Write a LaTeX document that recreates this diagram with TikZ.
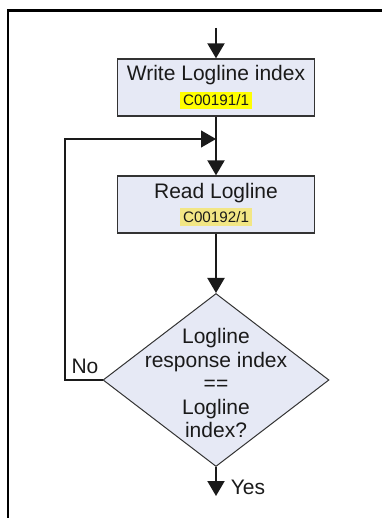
\documentclass[tikz,border=0pt]{standalone}
\usepackage{fontspec}
\setmainfont{Liberation Sans}
\usepackage{xcolor}
\usepackage{tikz}
\usetikzlibrary{arrows.meta,positioning,shapes.geometric}
\definecolor{ink}{HTML}{1A1A1A}
\definecolor{edge}{HTML}{333333}
\definecolor{boxfill}{HTML}{E6E9F5}
\definecolor{hlbright}{HTML}{FFFF00}
\definecolor{hlpale}{HTML}{F2E685}
\newcommand{\codetag}[2]{{\setlength{\fboxsep}{1.6pt}\colorbox{#1}{\fontsize{7.6}{8}\selectfont #2}}}

\begin{document}
\begin{tikzpicture}[
  x=0.5pt,y=-0.5pt,
  every node/.style={font=\fontsize{10.5}{12.5}\selectfont,text=ink},
  stepbox/.style={rectangle,draw=edge,line width=0.65pt,fill=boxfill,minimum width=98.5pt,minimum height=28.5pt,inner sep=0pt,align=center},
  decision/.style={diamond,draw=edge,line width=0.5pt,fill=boxfill,minimum width=113pt,minimum height=86.5pt,inner sep=0pt,aspect=1.306},
  label/.style={align=center,inner sep=0pt},
  flow/.style={line width=1pt,color=ink,-{Triangle[length=7.5pt,width=8.5pt]}},
  loop/.style={line width=0.6pt,color=ink,-{Triangle[length=7.5pt,width=8.5pt]}},
  frame/.style={line width=1.15pt,color=black}
]
\useasboundingbox (0,0) rectangle (382,518);
\draw[frame] (8,518) -- (8,10.5) -- (382,10.5);

\coordinate (entry) at (216,28);
\node[stepbox] (write) at (216,87.5) {Write Logline index\\[0pt]\codetag{hlbright}{C00191/1}};
\node[stepbox] (read) at (216,204.5) {Read Logline\\[-0.5pt]\codetag{hlpale}{C00192/1}};
\node[decision] (check) at (216,380) {};
\node[label,font=\fontsize{10.5}{11.75}\selectfont] (checktext) at (216,383) {Logline\\response index\\==\\Logline\\index?};
\coordinate (join) at (216,139);
\coordinate (exit) at (216,496);

\draw[flow] (entry) -- (write);
\draw[flow] (write) -- (read);
\draw[flow] (read) -- (check);
\draw[flow] (check) -- (exit);
\draw[loop] (check.west) -- (65,380) |- (join);

\node[label] (no) at (85,366) {No};
\node[label] (yes) at (248,487) {Yes};
\end{tikzpicture}
\end{document}
